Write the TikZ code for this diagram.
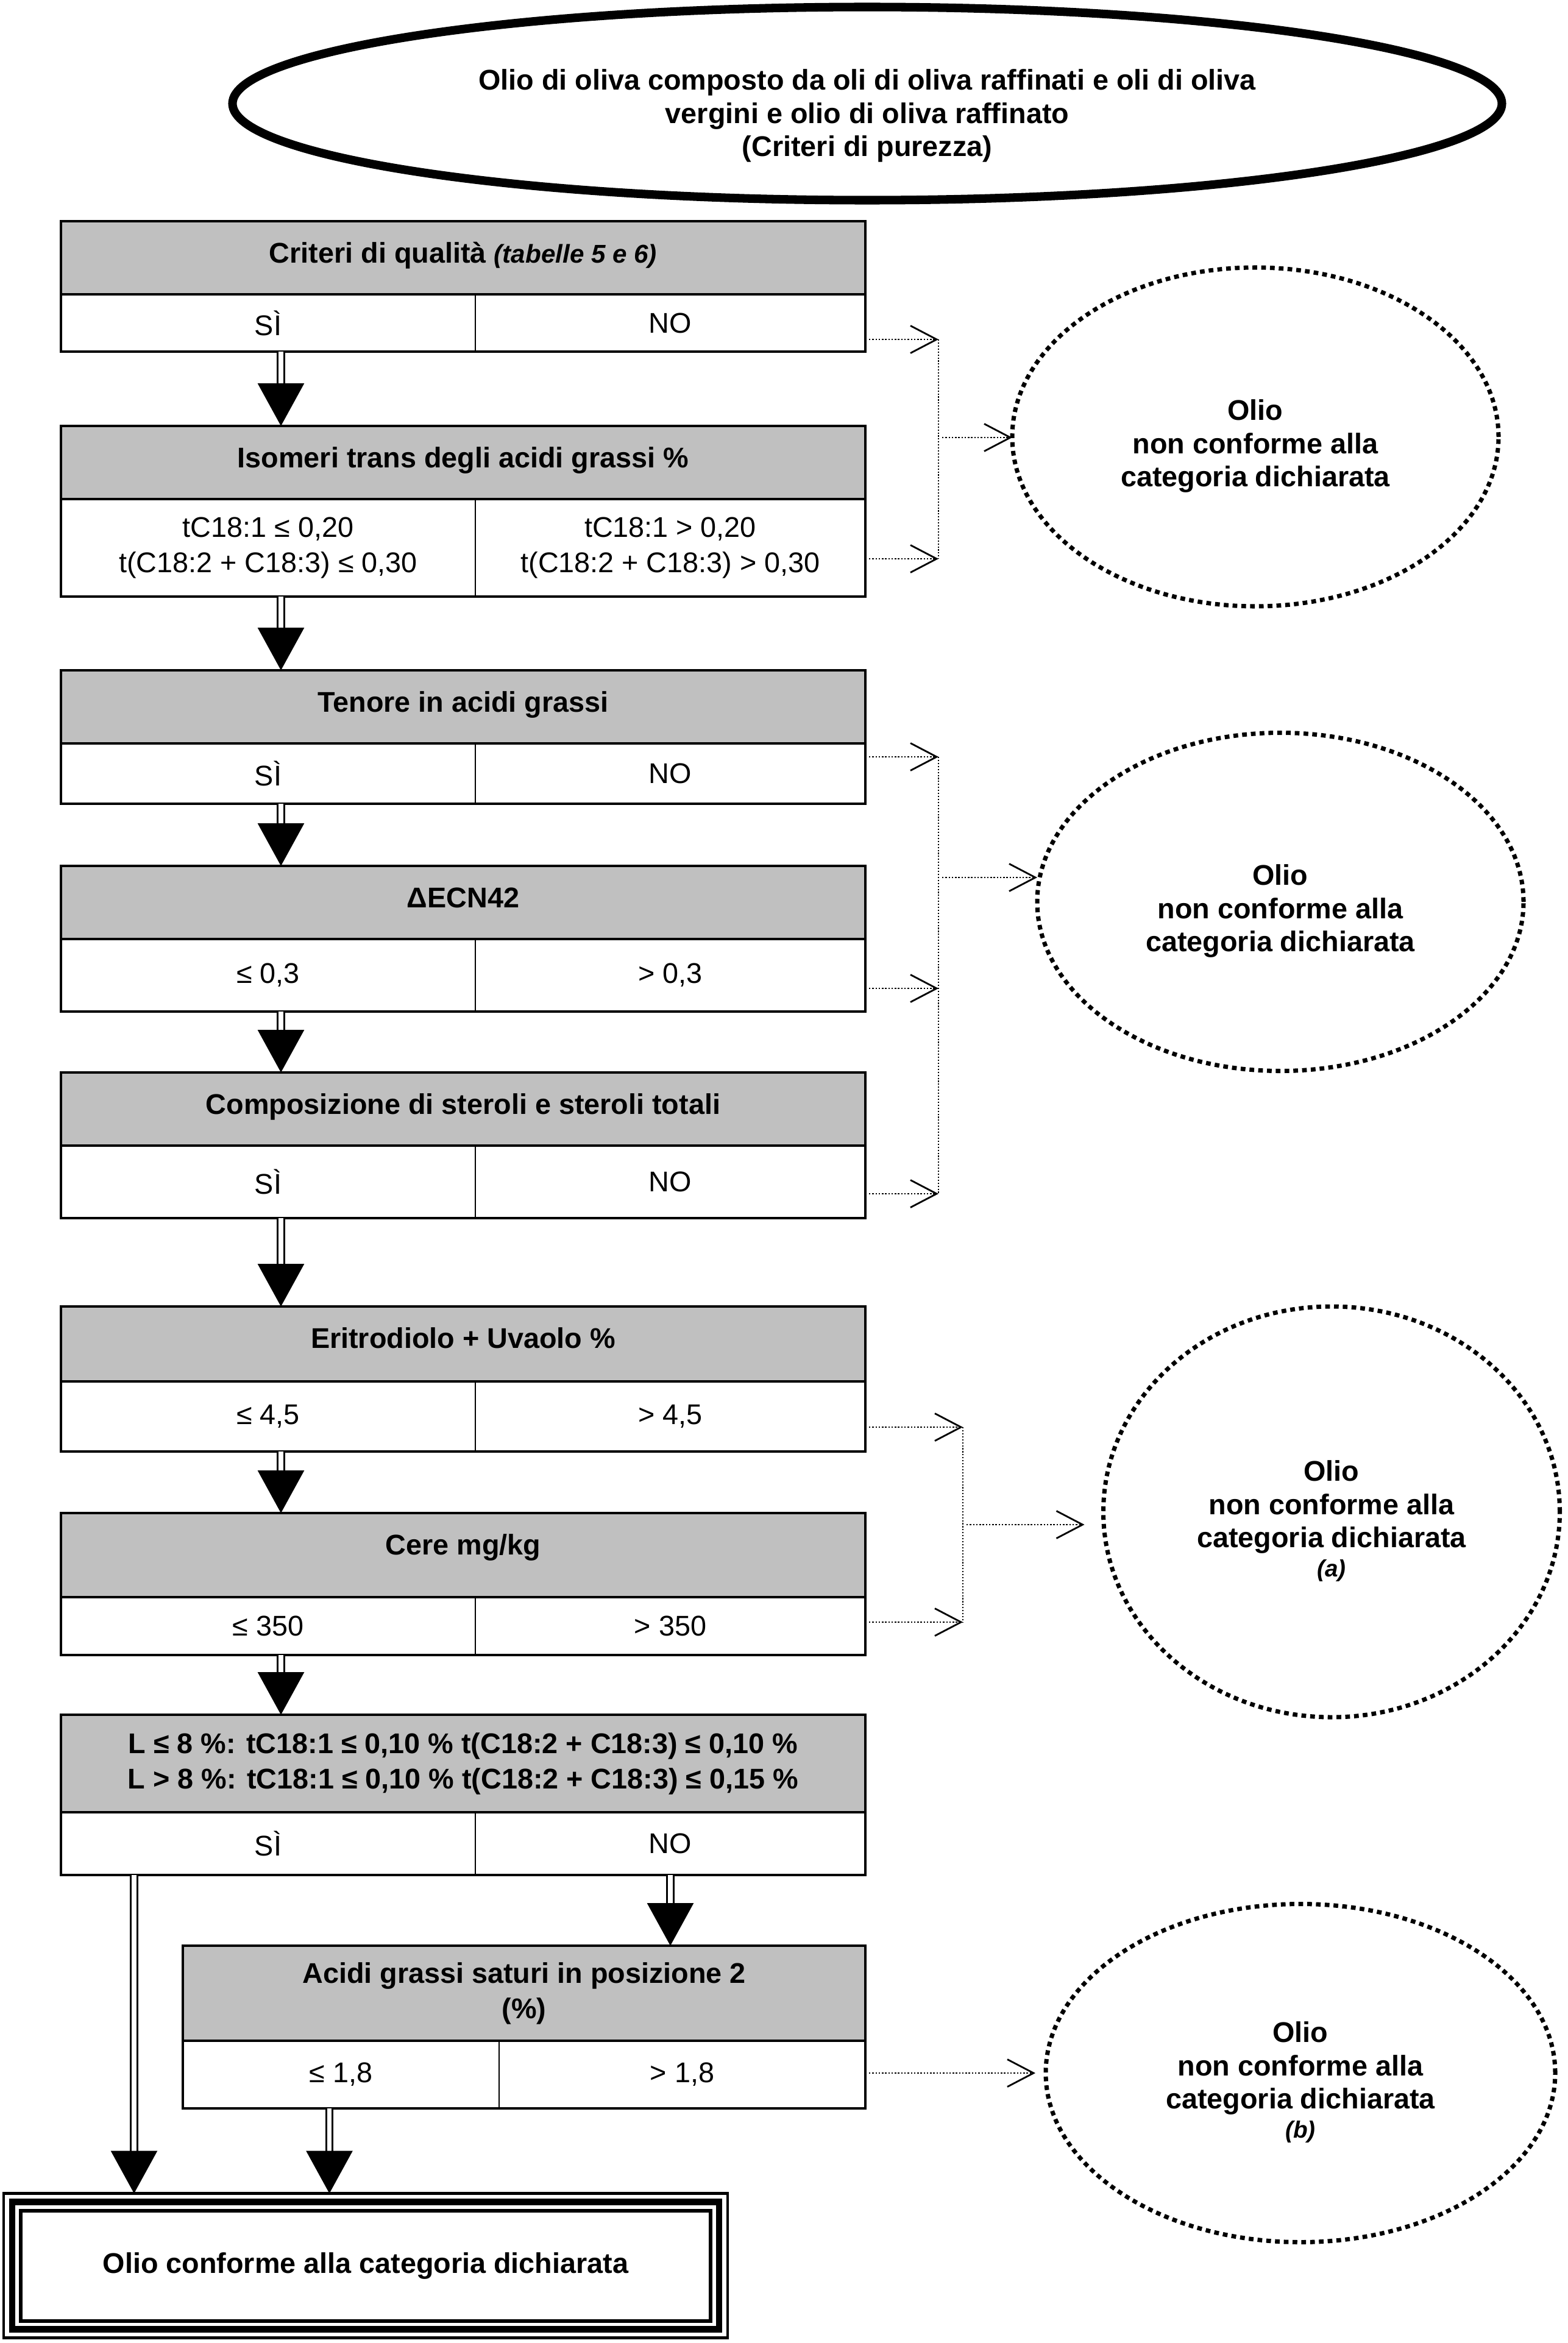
\documentclass[tikz,border=0pt]{standalone}
\usepackage{fontspec}
\setmainfont{Liberation Sans}
\usepackage{tikz}
\usepackage{xcolor}
\usetikzlibrary{arrows.meta, positioning, shapes.geometric, calc}

\definecolor{headgray}{RGB}{192,192,192}
\newcommand{\flowsize}{\fontsize{13.3}{15.6}\selectfont}

\begin{document}
\begin{tikzpicture}[font=\flowsize,
  head/.style={draw, fill=headgray, line width=1.1pt, anchor=north west, outer sep=0pt,
    inner sep=0pt, minimum width=13.2cm, text height=6.8mm, text depth=5.2mm, font=\flowsize\bfseries},
  headtwo/.style={draw, fill=headgray, line width=1.1pt, anchor=north west, outer sep=0pt,
    inner sep=0pt, align=center, font=\flowsize\bfseries},
  cell/.style={anchor=north west, outer sep=0pt, inner sep=0pt, align=center},
  frame/.style={line width=1.1pt},
  divider/.style={line width=0.6pt},
  flow/.style={double, double distance=2.2pt, line width=0.85pt, -{Triangle[length=7mm,width=7.6mm]}},
  reject/.style={line width=0.8pt, dash pattern=on 0.7pt off 0.8pt, shorten <=0.6mm,
    -{Straight Barb[length=4.3mm,width=4.5mm,line width=0.8pt]}},
  joint/.style={line width=0.5pt, dash pattern=on 0.6pt off 0.8pt},
  verdict/.style={ellipse, draw, line width=2pt, dash pattern=on 2.2pt off 1.9pt, outer sep=0pt,
    inner sep=0pt, align=center, font=\flowsize\bfseries}]

\useasboundingbox (0,0) rectangle (25.73,-38.45);

% start
\node[ellipse, draw, line width=4pt, minimum width=20.83cm, minimum height=3.17cm, inner sep=0pt,
  align=center, font=\flowsize\bfseries] (top) at (14.23,-1.70)
  {\rule{0pt}{7.4mm}Olio di oliva composto da oli di oliva raffinati e oli di oliva\\vergini e olio di oliva raffinato\\(Criteri di purezza)};

% box 1
\node[head] (h1) at (1.00,-3.63) {Criteri di qualità {\fontsize{12}{14}\selectfont\itshape (tabelle 5 e 6)}};
\node[cell, minimum width=6.8cm, minimum height=0.94cm] (y1) at (h1.south west) {SÌ};
\node[cell, minimum width=6.4cm, minimum height=0.94cm] (n1) at (y1.north east) {NO};
\draw[frame] (y1.north west) rectangle (n1.south east);
\draw[divider] (y1.north east) -- (y1.south east);

% box 2
\node[head] (h2) at (1.00,-6.99) {Isomeri trans degli acidi grassi \%};
\node[cell, minimum width=6.8cm, minimum height=1.60cm] (y2) at (h2.south west) {tC18:1 ≤ 0,20\\[0.4mm]t(C18:2 + C18:3) ≤ 0,30};
\node[cell, minimum width=6.4cm, minimum height=1.60cm] (n2) at (y2.north east) {tC18:1 > 0,20\\[0.4mm]t(C18:2 + C18:3) > 0,30};
\draw[frame] (y2.north west) rectangle (n2.south east);
\draw[divider] (y2.north east) -- (y2.south east);

% box 3
\node[head] (h3) at (1.00,-11.00) {Tenore in acidi grassi};
\node[cell, minimum width=6.8cm, minimum height=0.99cm] (y3) at (h3.south west) {SÌ};
\node[cell, minimum width=6.4cm, minimum height=0.99cm] (n3) at (y3.north east) {NO};
\draw[frame] (y3.north west) rectangle (n3.south east);
\draw[divider] (y3.north east) -- (y3.south east);

% box 4
\node[head] (h4) at (1.00,-14.21) {ΔECN42};
\node[cell, minimum width=6.8cm, minimum height=1.19cm] (y4) at (h4.south west) {≤ 0,3};
\node[cell, minimum width=6.4cm, minimum height=1.19cm] (n4) at (y4.north east) {> 0,3};
\draw[frame] (y4.north west) rectangle (n4.south east);
\draw[divider] (y4.north east) -- (y4.south east);

% box 5
\node[head] (h5) at (1.00,-17.60) {Composizione di steroli e steroli totali};
\node[cell, minimum width=6.8cm, minimum height=1.19cm] (y5) at (h5.south west) {SÌ};
\node[cell, minimum width=6.4cm, minimum height=1.19cm] (n5) at (y5.north east) {NO};
\draw[frame] (y5.north west) rectangle (n5.south east);
\draw[divider] (y5.north east) -- (y5.south east);

% box 6
\node[head, text depth=5.5mm] (h6) at (1.00,-21.44) {Eritrodiolo + Uvaolo \%};
\node[cell, minimum width=6.8cm, minimum height=1.15cm] (y6) at (h6.south west) {≤ 4,5};
\node[cell, minimum width=6.4cm, minimum height=1.15cm] (n6) at (y6.north east) {> 4,5};
\draw[frame] (y6.north west) rectangle (n6.south east);
\draw[divider] (y6.north east) -- (y6.south east);

% box 7
\node[head, text depth=7mm] (h7) at (1.00,-24.83) {Cere mg/kg};
\node[cell, minimum width=6.8cm, minimum height=0.95cm] (y7) at (h7.south west) {≤ 350};
\node[cell, minimum width=6.4cm, minimum height=0.95cm] (n7) at (y7.north east) {> 350};
\draw[frame] (y7.north west) rectangle (n7.south east);
\draw[divider] (y7.north east) -- (y7.south east);

% box 8
\node[headtwo, minimum width=13.2cm, minimum height=1.60cm] (h8) at (1.00,-28.14)
  {L ≤ 8 \%: tC18:1 ≤ 0,10 \% t(C18:2 + C18:3) ≤ 0,10 \%\\[0.3mm]L > 8 \%: tC18:1 ≤ 0,10 \% t(C18:2 + C18:3) ≤ 0,15 \%};
\node[cell, minimum width=6.8cm, minimum height=1.03cm] (y8) at (h8.south west) {SÌ};
\node[cell, minimum width=6.4cm, minimum height=1.03cm] (n8) at (y8.north east) {NO};
\draw[frame] (y8.north west) rectangle (n8.south east);
\draw[divider] (y8.north east) -- (y8.south east);

% box 9
\node[headtwo, minimum width=11.2cm, minimum height=1.56cm] (h9) at (3.00,-31.93)
  {Acidi grassi saturi in posizione 2\\[0.3mm](\%)};
\node[cell, minimum width=5.19cm, minimum height=1.11cm] (y9) at (h9.south west) {≤ 1,8};
\node[cell, minimum width=6.01cm, minimum height=1.11cm] (n9) at (y9.north east) {> 1,8};
\draw[frame] (y9.north west) rectangle (n9.south east);
\draw[divider] (y9.north east) -- (y9.south east);

% result
\node[draw, line width=1.4pt, outer sep=0pt, minimum width=11.88cm, minimum height=2.37cm,
  font=\flowsize\bfseries] (fin) at (6.00,-37.18) {Olio conforme alla categoria dichiarata};
\draw[line width=3.1pt] ([shift={(0.14,-0.14)}]fin.north west) rectangle ([shift={(-0.14,0.14)}]fin.south east);
\draw[line width=1.7pt] ([shift={(0.28,-0.28)}]fin.north west) rectangle ([shift={(-0.28,0.28)}]fin.south east);

% rejections
\node[verdict, minimum width=7.98cm, minimum height=5.56cm] (e1) at (20.60,-7.17)
  {\rule{0pt}{6.4mm}Olio\\non conforme alla\\categoria dichiarata};
\node[verdict, minimum width=7.98cm, minimum height=5.55cm] (e2) at (21.01,-14.80)
  {\rule{0pt}{6.4mm}Olio\\non conforme alla\\categoria dichiarata};
\node[verdict, minimum width=7.49cm, minimum height=6.74cm] (e3) at (21.85,-24.81)
  {\rule{0pt}{6.4mm}Olio\\non conforme alla\\categoria dichiarata\\[-0.7mm]{\fontsize{11}{13}\selectfont\itshape (a)}};
\node[verdict, minimum width=8.36cm, minimum height=5.55cm] (e4) at (21.34,-34.02)
  {\rule{0pt}{6.4mm}Olio\\non conforme alla\\categoria dichiarata\\[-0.7mm]{\fontsize{11}{13}\selectfont\itshape (b)}};

% main line
\draw[flow] ($(y1.south)+(0.21,0)$) -- ($(y1.south |- h2.north)+(0.21,0)$);
\draw[flow] ($(y2.south)+(0.21,0)$) -- ($(y2.south |- h3.north)+(0.21,0)$);
\draw[flow] ($(y3.south)+(0.21,0)$) -- ($(y3.south |- h4.north)+(0.21,0)$);
\draw[flow] ($(y4.south)+(0.21,0)$) -- ($(y4.south |- h5.north)+(0.21,0)$);
\draw[flow] ($(y5.south)+(0.21,0)$) -- ($(y5.south |- h6.north)+(0.21,0)$);
\draw[flow] ($(y6.south)+(0.21,0)$) -- ($(y6.south |- h7.north)+(0.21,0)$);
\draw[flow] ($(y7.south)+(0.21,0)$) -- ($(y7.south |- h8.north)+(0.21,0)$);
\draw[flow] ($(y8.south)+(-2.20,0)$) -- ($(y8.south |- fin.north)+(-2.20,0)$);
\draw[flow] (n8.south) -- (n8.south |- h9.north);
\draw[flow] ($(y9.south)+(-0.19,0)$) -- ($(y9.south |- fin.north)+(-0.19,0)$);

% group 1
\coordinate (k1a) at (15.40,-5.57);
\coordinate (k1b) at (15.40,-9.17);
\coordinate (k1m) at (15.40,-7.18);
\draw[reject] (n1.east |- k1a) -- (k1a);
\draw[reject] (n2.east |- k1b) -- (k1b);
\draw[joint] (k1a) -- (k1b);
\draw[reject] (k1m) -- (k1m -| e1.west);

% group 2
\coordinate (k2a) at (15.40,-12.42);
\coordinate (k2b) at (15.40,-16.22);
\coordinate (k2c) at (15.40,-19.59);
\coordinate (k2m) at (15.40,-14.40);
\draw[reject] (n3.east |- k2a) -- (k2a);
\draw[reject] (n4.east |- k2b) -- (k2b);
\draw[reject] (n5.east |- k2c) -- (k2c);
\draw[joint] (k2a) -- (k2c);
\draw[reject] (k2m) -- (k2m -| e2.west);

% group 3
\coordinate (k3a) at (15.80,-23.42);
\coordinate (k3b) at (15.80,-26.62);
\coordinate (k3m) at (15.80,-25.02);
\draw[reject] (n6.east |- k3a) -- (k3a);
\draw[reject] (n7.east |- k3b) -- (k3b);
\draw[joint] (k3a) -- (k3b);
\draw[reject, shorten >=3.1mm] (k3m) -- (k3m -| e3.west);

% group 4
\draw[reject, shorten >=1.7mm] (n9.east |- e4.west) -- (e4.west);

\end{tikzpicture}
\end{document}
